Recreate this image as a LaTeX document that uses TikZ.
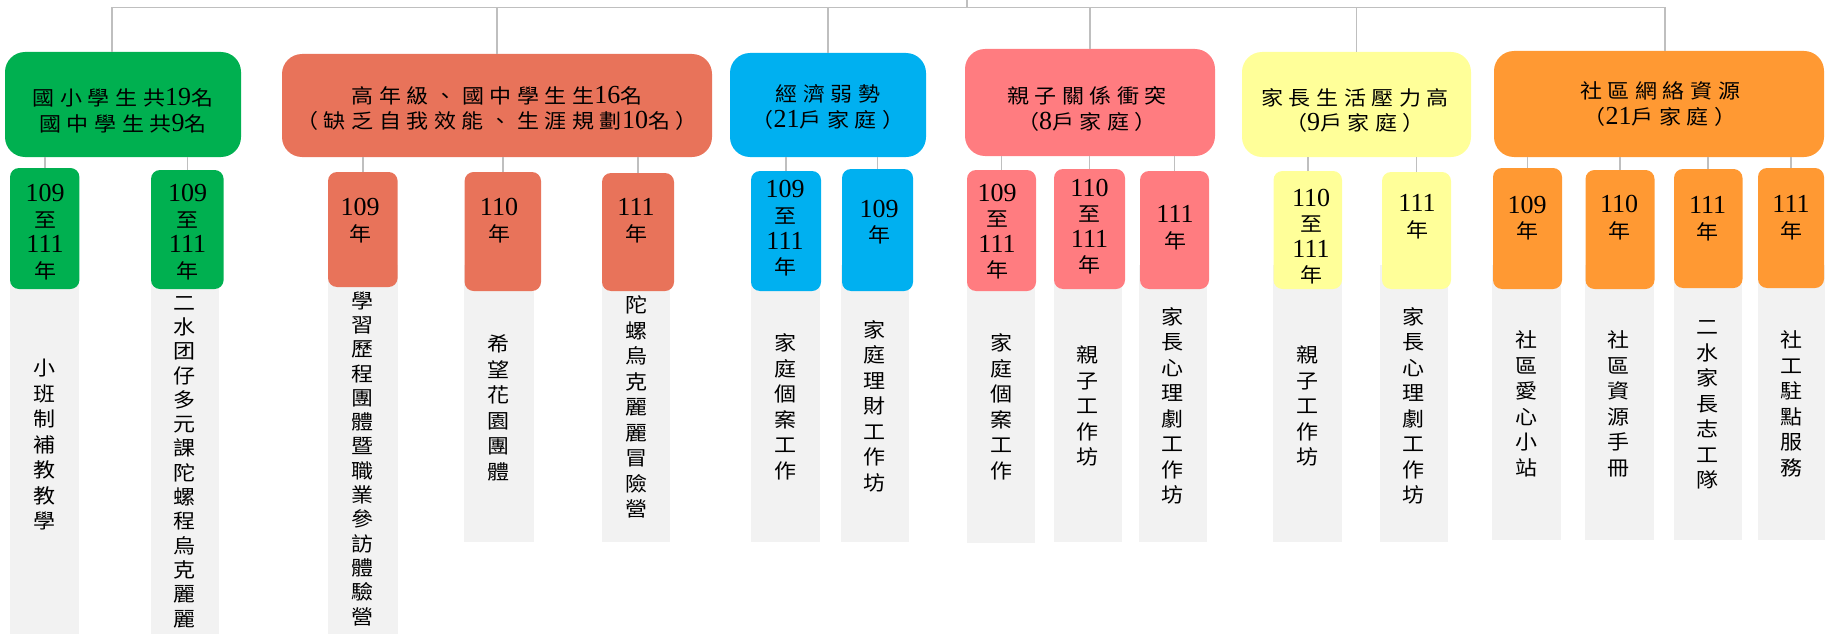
\documentclass[tikz,border=0pt]{standalone}
\usepackage{fontspec}
\setmainfont{Noto Sans CJK TC}[FakeStretch=1.1]
\newfontfamily\cjkls{Noto Sans CJK TC}[FakeStretch=1.1,LetterSpace=28]
\newfontfamily\digf{Liberation Serif}
\newcommand\Dg[1]{{\digf\fontsize{26pt}{25.6pt}\selectfont #1}}
\definecolor{cgreen}{HTML}{00B050}
\definecolor{cred}{HTML}{E8735A}
\definecolor{cblue}{HTML}{00B0F0}
\definecolor{cpink}{HTML}{FF7C80}
\definecolor{cyellow}{HTML}{FFFF99}
\definecolor{corange}{HTML}{FF9933}
\definecolor{cgray}{HTML}{F2F2F2}
\definecolor{cline}{HTML}{BFBFBF}
\newcommand\mkbox[6]{%
  \pgfmathsetmacro\mbcx{(#3+#5)/2}%
  \pgfmathsetmacro\mbcy{(#4+#6)/2}%
  \pgfmathsetmacro\mbw{#5-#3}%
  \pgfmathsetmacro\mbh{#6-#4}%
  \node[#1,minimum width=\mbw pt,minimum height=\mbh pt] (#2) at (\mbcx,\mbcy) {};}
\tikzset{
  lvone/.style={fill=#1, rounded corners=20pt, inner sep=0pt, outer sep=0pt},
  yrbox/.style={fill=#1, rounded corners=9pt, inner sep=0pt, outer sep=0pt},
  graybox/.style={fill=cgray, inner sep=0pt, outer sep=0pt},
  conn/.style={draw=cline, line width=1.6pt},
  ltxt/.style={font=\cjkls\fontsize{20pt}{25.7pt}\selectfont, align=center, inner sep=0pt},
  ytxt/.style={font=\fontsize{20pt}{25.6pt}\selectfont, align=center, inner sep=0pt},
  gtxt/.style={font=\fontsize{20pt}{25.5pt}\selectfont, align=center, inner sep=0pt},
  gtxtn/.style={font=\fontsize{20pt}{24.3pt}\selectfont, align=center, inner sep=0pt}
}
\begin{document}
\begin{tikzpicture}[x=1pt,y=-1pt]
\useasboundingbox (0,0) rectangle (1825,634);
\clip (0,0) rectangle (1825,634);
% gray boxes
\mkbox{graybox}{g1g}{10}{265}{79}{640}
\mkbox{graybox}{g2g}{151}{265}{219}{640}
\mkbox{graybox}{r1g}{328}{265}{398}{640}
\mkbox{graybox}{r2g}{464}{265}{533.5}{542}
\mkbox{graybox}{r3g}{602}{265}{670}{542}
\mkbox{graybox}{b1g}{751}{265}{820}{542}
\mkbox{graybox}{b2g}{841}{265}{909}{542}
\mkbox{graybox}{p1g}{967}{265}{1035}{543}
\mkbox{graybox}{p2g}{1054}{265}{1122}{542}
\mkbox{graybox}{p3g}{1139}{265}{1207}{542}
\mkbox{graybox}{y1g}{1273}{265}{1342}{542}
\mkbox{graybox}{y2g}{1380}{265}{1448}{542}
\mkbox{graybox}{o1g}{1492}{265}{1561}{540}
\mkbox{graybox}{o2g}{1585}{265}{1654}{540}
\mkbox{graybox}{o3g}{1674}{265}{1742}{540}
\mkbox{graybox}{o4g}{1757.5}{265}{1830}{540}
% year boxes
\mkbox{yrbox=cgreen}{g1}{10}{168}{79.4}{289}
\mkbox{yrbox=cgreen}{g2}{151}{170}{223.6}{289}
\mkbox{yrbox=cred}{r1}{328}{172}{397.6}{287}
\mkbox{yrbox=cred}{r2}{464.6}{172}{541}{291}
\mkbox{yrbox=cred}{r3}{602}{173}{674}{291}
\mkbox{yrbox=cblue}{b1}{751}{171}{821}{291}
\mkbox{yrbox=cblue}{b2}{842}{169}{913}{291}
\mkbox{yrbox=cpink}{p1}{967}{170}{1036}{291}
\mkbox{yrbox=cpink}{p2}{1054}{169}{1125}{289}
\mkbox{yrbox=cpink}{p3}{1140}{171}{1209}{289}
\mkbox{yrbox=cyellow}{y1}{1273.5}{171}{1342}{289}
\mkbox{yrbox=cyellow}{y2}{1382}{172}{1451}{289}
\mkbox{yrbox=corange}{o1}{1493}{168}{1562}{289}
\mkbox{yrbox=corange}{o2}{1585.5}{170}{1654.5}{289}
\mkbox{yrbox=corange}{o3}{1674}{169}{1742.5}{288}
\mkbox{yrbox=corange}{o4}{1758}{168}{1824}{288}
% level one boxes
\mkbox{lvone=cgreen}{n1}{5}{52}{241}{157}
\mkbox{lvone=cred}{n2}{282}{54}{712}{157}
\mkbox{lvone=cblue}{n3}{730}{53}{926}{157}
\mkbox{lvone=cpink}{n4}{965}{49}{1215}{156}
\mkbox{lvone=cyellow}{n5}{1242}{52}{1471}{157}
\mkbox{lvone=corange}{n6}{1494}{51}{1824}{157}
% top connectors
\coordinate (hl) at (112,7.5);
\coordinate (hr) at (1665,7.5);
\coordinate (rootc) at (967,0);
\draw[conn] (hl) -- (hr);
\draw[conn] (rootc) -- (rootc |- hl);
\draw[conn] (hl) -- (hl |- n1.north);
\draw[conn] (n2.north) -- (n2.north |- hl);
\draw[conn] (n3.north) -- (n3.north |- hl);
\draw[conn] (n4.north) -- (n4.north |- hl);
\draw[conn] (n5.north) -- (n5.north |- hl);
\draw[conn] (hr) -- (hr |- n6.north);
% child connectors
\foreach \c/\p in {g1/n1,g2/n1,r1/n2,r2/n2,r3/n2,b1/n3,b2/n3,p1/n4,p2/n4,p3/n4,y1/n5,y2/n5,o1/n6,o2/n6,o3/n6,o4/n6}
  \draw[conn] (\c.north) -- (\c.north |- \p.south);
% level one texts
\node[ltxt] (n1t) at (123,111) {國小學生共\Dg{19}名\\國中學生共\Dg{9}名};
\node[ltxt] (n2t) at (497,108.5) {高年級、國中學生生\Dg{16}名\\（缺乏自我效能、生涯規劃\Dg{10}名）};
\node[ltxt] (n3t) at (828,107) {經濟弱勢\\（\Dg{21}戶家庭）};
\node[ltxt] (n4t) at (1087,109) {親子關係衝突\\（\Dg{8}戶家庭）};
\node[ltxt] (n5t) at (1355,110.5) {家長生活壓力高\\（\Dg{9}戶家庭）};
\node[ltxt] (n6t) at (1660,104) {社區網絡資源\\（\Dg{21}戶家庭）};
% year texts
\node[ytxt] (g1t) at (45,232) {\Dg{109}\\至\\\Dg{111}\\年};
\node[ytxt] (g2t) at (187.5,232) {\Dg{109}\\至\\\Dg{111}\\年};
\node[ytxt] (r1t) at (360,220.5) {\Dg{109}\\年};
\node[ytxt] (r2t) at (499,220.5) {\Dg{110}\\年};
\node[ytxt] (r3t) at (636,220.5) {\Dg{111}\\年};
\node[ytxt] (b1t) at (785,228.5) {\Dg{109}\\至\\\Dg{111}\\年};
\node[ytxt] (b2t) at (879,222) {\Dg{109}\\年};
\node[ytxt] (p1t) at (997,231.7) {\Dg{109}\\至\\\Dg{111}\\年};
\node[ytxt] (p2t) at (1089.5,226.7) {\Dg{110}\\至\\\Dg{111}\\年};
\node[ytxt] (p3t) at (1175,228) {\Dg{111}\\年};
\node[ytxt] (y1t) at (1311,236.7) {\Dg{110}\\至\\\Dg{111}\\年};
\node[ytxt] (y2t) at (1417,217) {\Dg{111}\\年};
\node[ytxt] (o1t) at (1527,218) {\Dg{109}\\年};
\node[ytxt] (o2t) at (1619,217.5) {\Dg{110}\\年};
\node[ytxt] (o3t) at (1707.6,219) {\Dg{111}\\年};
\node[ytxt] (o4t) at (1791,218) {\Dg{111}\\年};
% gray texts
\node[gtxt] (g1s) at (44.5,445) {小\\班\\制\\補\\教\\教\\學};
\node[gtxtn] (g2s) at (184,462) {二\\水\\团\\仔\\多\\元\\課\\陀\\螺\\程\\烏\\克\\麗\\麗};
\node[gtxtn] (r1s) at (362.7,458.6) {學\\習\\歷\\程\\團\\體\\暨\\職\\業\\參\\訪\\體\\驗\\營};
\node[gtxt] (r2s) at (498.5,408) {希\\望\\花\\園\\團\\體};
\node[gtxt] (r3s) at (636,407) {陀\\螺\\烏\\克\\麗\\麗\\冒\\險\\營};
\node[gtxt] (b1s) at (785.5,407) {家\\庭\\個\\案\\工\\作};
\node[gtxt] (b2s) at (874.5,406) {家\\庭\\理\\財\\工\\作\\坊};
\node[gtxt] (p1s) at (1001,407) {家\\庭\\個\\案\\工\\作};
\node[gtxt] (p2s) at (1087.5,406) {親\\子\\工\\作\\坊};
\node[gtxt] (p3s) at (1172.5,406) {家\\長\\心\\理\\劇\\工\\作\\坊};
\node[gtxt] (y1s) at (1307,406) {親\\子\\工\\作\\坊};
\node[gtxt] (y2s) at (1413,406) {家\\長\\心\\理\\劇\\工\\作\\坊};
\node[gtxt] (o1s) at (1526,404) {社\\區\\愛\\心\\小\\站};
\node[gtxt] (o2s) at (1618.5,404) {社\\區\\資\\源\\手\\冊};
\node[gtxt] (o3s) at (1707.6,405) {二\\水\\家\\長\\志\\工\\隊};
\node[gtxt] (o4s) at (1791,404) {社\\工\\駐\\點\\服\\務};
\end{tikzpicture}
\end{document}
